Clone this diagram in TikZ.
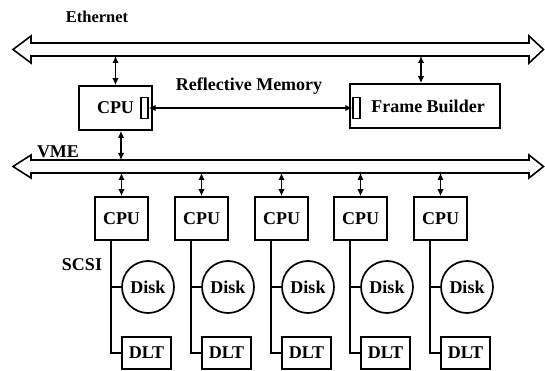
\documentclass[tikz,border=0pt]{standalone}
\usepackage{fontspec}
\setmainfont{Liberation Serif}
\usetikzlibrary{arrows.meta}
\begin{document}
\begin{tikzpicture}[x=1pt,y=-1pt,
  txt/.style={font=\fontsize{18}{21}\selectfont\bfseries},
  box/.style={draw,line width=1.7pt,inner sep=0pt,txt},
  port/.style={draw,line width=1.4pt,inner sep=0pt,minimum width=7pt,minimum height=21pt},
  lbl/.style={txt,inner sep=0pt},
  bus/.style={draw,line width=1.6pt,line join=miter},
  conn/.style={line width=1.5pt,{Latex[length=7pt,width=6.5pt]}-{Latex[length=7pt,width=6.5pt]}},
  wire/.style={line width=1.5pt}]
\useasboundingbox (0,0) rectangle (545,371);
% buses
\draw[bus] (13,49.5) -- (31,36) -- (31,43) -- (529,43) -- (529,36) -- (543.5,49.5)
  -- (529,63) -- (529,56) -- (31,56) -- (31,63) -- cycle;
\draw[bus] (13,166.5) -- (31,155) -- (31,160) -- (529,160) -- (529,155) -- (543.5,166.5)
  -- (529,178) -- (529,173) -- (31,173) -- (31,178) -- cycle;
\coordinate (ethB) at (0,56);
\coordinate (vmeT) at (0,160);
\coordinate (vmeB) at (0,173);
% labels
\node[lbl,font=\fontsize{16.5}{20}\selectfont\bfseries] (eth) at (97,17) {Ethernet};
\node[lbl] (rm) at (249,86) {Reflective Memory};
\node[lbl] (vme) at (58,152) {VME};
\node[lbl] (scsi) at (82,265) {SCSI};
% top boxes
\node[box,minimum width=73pt,minimum height=44pt] (cpu0) at (115.5,108) {CPU};
\node[port] (p0) at (144.5,108) {};
\node[box,minimum width=150pt,minimum height=44pt] (fb) at (425,106) {\hspace*{6pt}Frame Builder};
\node[port] (p1) at (356.5,108) {};
\draw[conn] (p0.east) -- (p1.west);
\draw[conn] (cpu0.north) -- (cpu0.north |- ethB);
\draw[conn] ([xshift=-4pt]fb.north) -- ([xshift=-4pt]fb.north |- ethB);
\draw[conn] ([xshift=5.5pt]cpu0.south) -- ([xshift=5.5pt]cpu0.south |- vmeT);
% lower columns
\foreach \i/\lx in {1/111,2/191,3/271,4/350,5/430}{
  \coordinate (l\i) at (\lx,218);
  \node[box,minimum width=53pt,minimum height=43pt] (cpu\i) at (\lx+10.5,218.5) {CPU};
  \node[box,circle,minimum size=52pt] (disk\i) at (\lx+37,287) {Disk};
  \node[box,minimum width=49pt,minimum height=32pt] (dlt\i) at (\lx+35.5,353) {DLT};
  \draw[conn] (cpu\i.north) -- (cpu\i.north |- vmeB);
  \draw[wire] (cpu\i.south -| l\i) |- (dlt\i.west);
  \draw[wire] (disk\i.west) -- (disk\i.west -| l\i);
}
\end{tikzpicture}
\end{document}
